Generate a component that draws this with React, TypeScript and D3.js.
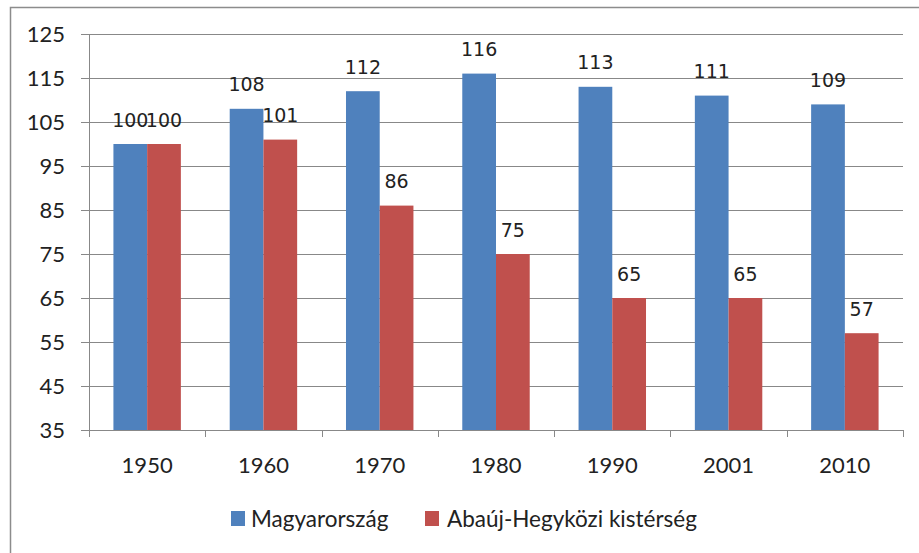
import React from "react";
import * as d3 from "d3";

const years = ["1950", "1960", "1970", "1980", "1990", "2001", "2010"];
const magyar = [100, 108, 112, 116, 113, 111, 109];
const abauj = [100, 101, 86, 75, 65, 65, 57];
const seriesNames = ["Magyarország", "Abaúj-Hegyközi kistérség"];
const yTicks = [35, 45, 55, 65, 75, 85, 95, 105, 115, 125];

const colors = ["#4F81BD", "#C0504D"];

const App = () => {
  const width = 919;
  const height = 553;
  const left = 89, right = 903, top = 34, bottom = 430;

  const x = d3.scaleBand().domain(years).range([left, right]).paddingInner(0.42).paddingOuter(0.21);
  const sub = d3.scaleBand().domain(["0", "1"]).range([0, x.bandwidth()]);
  const y = d3.scaleLinear().domain([35, 125]).range([bottom, top]);
  const step = (right - left) / years.length;
  const series = [magyar, abauj];
  const font = "Lato, 'Open Sans', sans-serif";

  return (
    <svg width={width} height={height} style={{ position: "absolute", left: 0, top: 0 }}>
      <rect x={0} y={0} width={width} height={height} fill="#fff" />
      <path d={`M10.5,553 V7.5 H919`} fill="none" stroke="#8c8c8c" strokeWidth={1.5} />
      {/* grid */}
      {yTicks.map((t) => (
        <g key={t}>
          {t !== 35 && <line x1={left} x2={right} y1={Math.round(y(t)) + 0.5} y2={Math.round(y(t)) + 0.5} stroke="#888" />}
          <line x1={left - 8} x2={left} y1={Math.round(y(t)) + 0.5} y2={Math.round(y(t)) + 0.5} stroke="#888" />
          <text x={65} y={y(t)} dy="0.35em" textAnchor="end" fontSize={22} fontFamily={font} fill="#222">{t}</text>
        </g>
      ))}
      {/* bars */}
      {years.map((yr, i) => (
        <g key={yr}>
          {series.map((s, j) => (
            <rect key={j} x={(x(yr) as number) + (sub(String(j)) as number)} y={y(s[i])}
              width={sub.bandwidth()} height={y(35) - y(s[i])} fill={colors[j]} />
          ))}
        </g>
      ))}
      {/* axes */}
      <line x1={left + 0.5} x2={left + 0.5} y1={top} y2={bottom} stroke="#888" />
      <line x1={left} x2={right} y1={bottom + 0.5} y2={bottom + 0.5} stroke="#888" />
      {d3.range(years.length + 1).map((k) => (
        <line key={k} x1={Math.round(left + k * step) + 0.5} x2={Math.round(left + k * step) + 0.5}
          y1={bottom} y2={bottom + 7} stroke="#888" />
      ))}
      {years.map((yr) => (
        <text key={yr} x={(x(yr) as number) + x.bandwidth() / 2} y={465} dy="0.35em" textAnchor="middle"
          fontSize={22} fontFamily={font} fill="#222">{yr}</text>
      ))}
      {/* data labels */}
      {years.map((yr, i) => (
        <g key={yr}>
          {series.map((s, j) => (
            <text key={j} x={(x(yr) as number) + (sub(String(j)) as number) + sub.bandwidth() / 2}
              y={y(s[i]) - 24} dy="0.35em" textAnchor="middle" fontSize={19}
              fontFamily="'DejaVu Sans', Verdana, sans-serif" fill="#222">{s[i]}</text>
          ))}
        </g>
      ))}
      {/* legend */}
      <rect x={231} y={511} width={14} height={15} fill={colors[0]} />
      <text x={251} y={519} dy="0.35em" fontSize={22.5} fontFamily={font} fill="#222">{seriesNames[0]}</text>
      <rect x={425} y={511} width={14} height={15} fill={colors[1]} />
      <text x={447} y={519} dy="0.35em" fontSize={22.5} fontFamily={font} fill="#222">{seriesNames[1]}</text>
    </svg>
  );
};

export default App;
